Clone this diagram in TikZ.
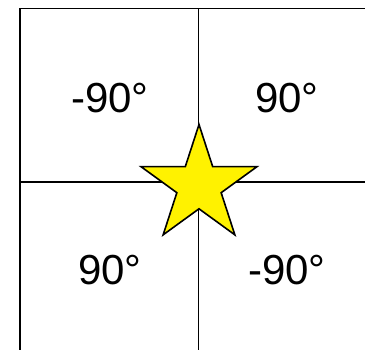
\documentclass[tikz,border=0pt]{standalone}
\usepackage{fontspec}
\setmainfont{Liberation Sans}
\begin{document}
\begin{tikzpicture}[x=1pt,y=1pt,
  gridline/.style={line width=1.6pt,black},
  lbl/.style={anchor=base,inner sep=0pt,font=\fontsize{42}{48}\selectfont},
  starshape/.style={draw=black,line width=1.6pt,fill=yellow,line join=miter}]
\useasboundingbox (0,0) rectangle (365,350);
\clip (0,0) rectangle (365,350);
\coordinate (tl) at (20,341.5);
\coordinate (br) at (380,-10);
\coordinate (vtop) at (198.5,341.5);
\coordinate (vbot) at (198.5,-10);
\coordinate (hleft) at (20,168);
\coordinate (hright) at (380,168);
\draw[gridline] (tl) rectangle (br);
\draw[gridline] (vtop) -- (vbot);
\draw[gridline] (hleft) -- (hright);
\node[lbl] (a) at (110,237) {-90°};
\node[lbl] (b) at (287,237) {90°};
\node[lbl] (c) at (110,65) {90°};
\node[lbl] (d) at (287,65) {-90°};
\coordinate (sc) at (199,164.5);
\draw[starshape] ([shift={(90:61)}]sc) -- ([shift={(126:23.3)}]sc) -- ([shift={(162:61)}]sc) -- ([shift={(198:23.3)}]sc) -- ([shift={(234:61)}]sc) -- ([shift={(270:23.3)}]sc) -- ([shift={(306:61)}]sc) -- ([shift={(342:23.3)}]sc) -- ([shift={(18:61)}]sc) -- ([shift={(54:23.3)}]sc) -- cycle;
\end{tikzpicture}
\end{document}
